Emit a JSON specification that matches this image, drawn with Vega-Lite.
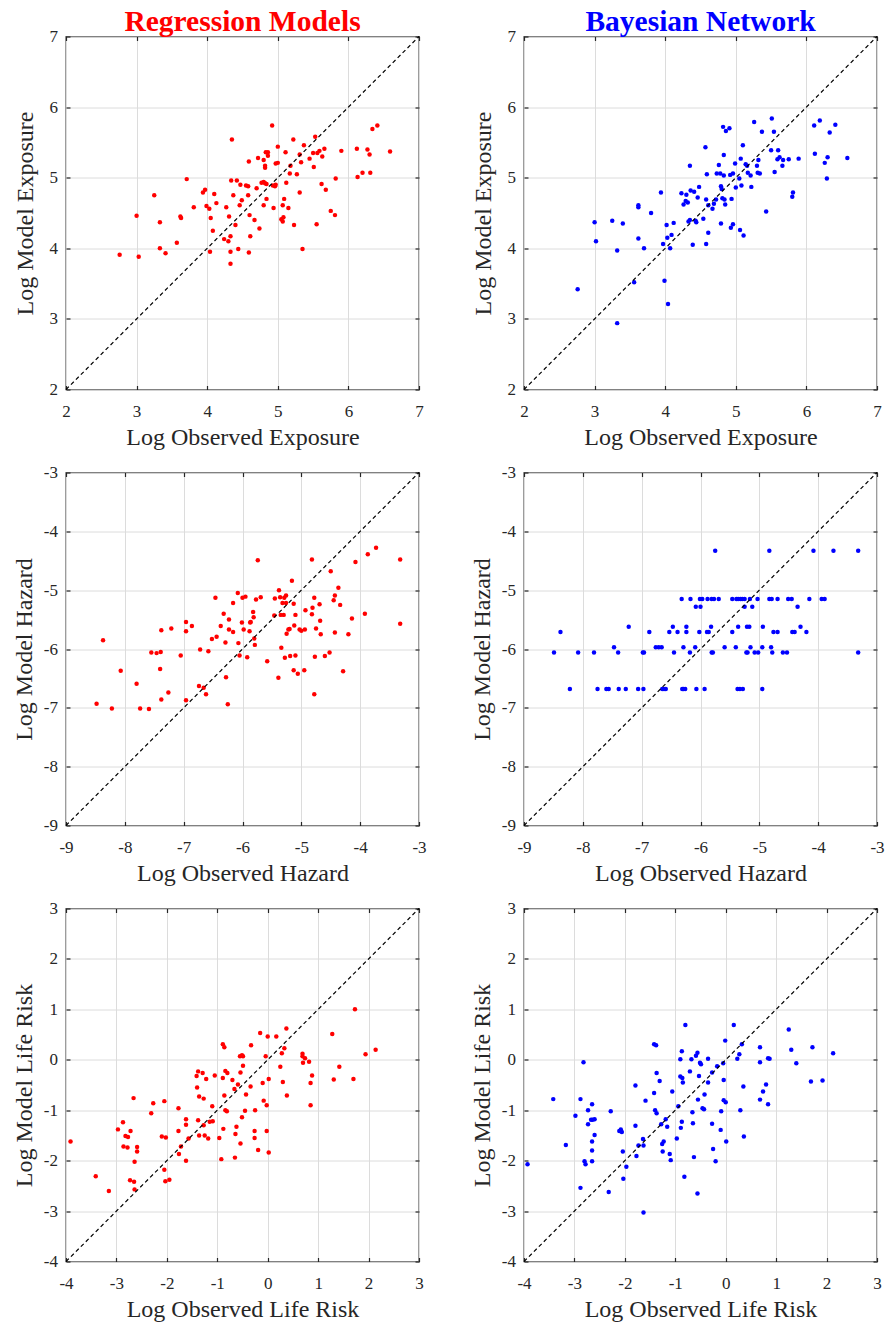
{
"$schema": "https://vega.github.io/schema/vega-lite/v6.json",
"background": "white",
"padding": {"left": 11, "top": 5.5, "right": 2, "bottom": 2},
"config": {
  "view": {"stroke": "#262626", "strokeWidth": 1.3},
  "axis": {"domain": false, "grid": true, "gridColor": "#dcdcdc", "gridWidth": 1, "ticks": true, "tickSize": -4, "tickColor": "#262626", "tickWidth": 1.2, "labelFont": "Liberation Serif", "labelFontSize": 17, "labelColor": "#262626", "labelFlush": false, "labelOverlap": false, "titleFont": "Liberation Serif", "titleFontSize": 24, "titleFontWeight": "normal", "titleColor": "#262626"},
  "axisX": {"labelPadding": 18, "titlePadding": 5.5},
  "axisY": {"labelPadding": 12.5},
  "title": {"font": "Liberation Serif", "fontSize": 29.5, "fontWeight": "bold", "frame": "group", "anchor": "middle", "baseline": "alphabetic", "offset": -9.5}
},
"datasets": {
  "diag_exp": [{"v": 2}, {"v": 7}],
  "diag_haz": [{"v": -9}, {"v": -3}],
  "diag_life": [{"v": -4}, {"v": 3}],
  "rm_exp": [
{"observed":2.76,"model":3.91},{"observed":3.03,"model":3.88},{"observed":3.0,"model":4.46},{"observed":3.25,"model":4.75},{"observed":3.33,"model":4.37},{"observed":3.33,"model":4.0},{"observed":3.41,"model":3.93},{"observed":3.57,"model":4.08},{"observed":3.62,"model":4.45},{"observed":3.63,"model":4.43},{"observed":3.71,"model":4.98},{"observed":3.81,"model":4.58},{"observed":3.94,"model":4.79},{"observed":3.97,"model":4.83},{"observed":3.99,"model":4.6},{"observed":4.03,"model":4.56},{"observed":4.05,"model":4.43},{"observed":4.04,"model":3.95},{"observed":4.08,"model":4.25},{"observed":4.1,"model":4.77},{"observed":4.13,"model":4.64},{"observed":4.24,"model":4.13},{"observed":4.3,"model":4.1},{"observed":4.33,"model":4.17},{"observed":4.33,"model":3.95},{"observed":4.33,"model":3.78},{"observed":4.44,"model":3.99},{"observed":4.59,"model":3.94},{"observed":4.61,"model":4.17},{"observed":4.4,"model":4.33},{"observed":4.27,"model":4.58},{"observed":4.31,"model":4.45},{"observed":4.37,"model":4.75},{"observed":4.34,"model":4.96},{"observed":4.42,"model":4.96},{"observed":4.46,"model":4.61},{"observed":4.49,"model":4.68},{"observed":4.47,"model":4.9},{"observed":4.55,"model":4.89},{"observed":4.58,"model":4.88},{"observed":4.58,"model":4.75},{"observed":4.6,"model":4.47},{"observed":4.67,"model":4.4},{"observed":4.74,"model":4.28},{"observed":4.35,"model":5.54},{"observed":4.59,"model":5.23},{"observed":4.72,"model":5.28},{"observed":4.7,"model":4.85},{"observed":4.77,"model":4.93},{"observed":4.8,"model":4.94},{"observed":4.82,"model":4.92},{"observed":4.84,"model":4.91},{"observed":4.8,"model":4.61},{"observed":4.84,"model":4.7},{"observed":4.8,"model":5.25},{"observed":4.82,"model":5.17},{"observed":4.82,"model":5.14},{"observed":4.83,"model":5.36},{"observed":4.86,"model":5.36},{"observed":4.86,"model":5.31},{"observed":4.92,"model":5.74},{"observed":4.93,"model":4.89},{"observed":4.96,"model":4.88},{"observed":4.97,"model":4.9},{"observed":4.94,"model":4.57},{"observed":4.97,"model":5.2},{"observed":5.0,"model":5.21},{"observed":5.0,"model":5.44},{"observed":5.11,"model":5.36},{"observed":5.07,"model":4.61},{"observed":5.09,"model":4.7},{"observed":5.15,"model":4.57},{"observed":5.05,"model":4.41},{"observed":5.07,"model":4.38},{"observed":5.08,"model":4.44},{"observed":5.12,"model":4.93},{"observed":5.17,"model":5.06},{"observed":5.18,"model":5.17},{"observed":5.22,"model":5.54},{"observed":5.23,"model":4.33},{"observed":5.27,"model":5.05},{"observed":5.31,"model":5.33},{"observed":5.33,"model":5.22},{"observed":5.31,"model":4.79},{"observed":5.35,"model":3.99},{"observed":5.37,"model":5.46},{"observed":5.45,"model":5.27},{"observed":5.5,"model":5.35},{"observed":5.53,"model":5.58},{"observed":5.51,"model":5.15},{"observed":5.56,"model":5.35},{"observed":5.59,"model":5.38},{"observed":5.63,"model":5.3},{"observed":5.66,"model":5.41},{"observed":5.62,"model":4.91},{"observed":5.68,"model":4.83},{"observed":5.55,"model":4.34},{"observed":5.75,"model":4.53},{"observed":5.81,"model":4.47},{"observed":5.82,"model":4.99},{"observed":5.9,"model":5.38},{"observed":6.12,"model":5.41},{"observed":6.13,"model":5.01},{"observed":6.2,"model":5.07},{"observed":6.27,"model":5.4},{"observed":6.3,"model":5.33},{"observed":6.31,"model":5.07},{"observed":6.34,"model":5.69},{"observed":6.41,"model":5.74},{"observed":6.59,"model":5.37}
  ],
  "bn_exp": [
{"observed":2.76,"model":3.42},{"observed":3.0,"model":4.37},{"observed":3.02,"model":4.1},{"observed":3.25,"model":4.39},{"observed":3.4,"model":4.35},{"observed":3.32,"model":3.97},{"observed":3.32,"model":2.94},{"observed":3.56,"model":3.52},{"observed":3.62,"model":4.61},{"observed":3.62,"model":4.58},{"observed":3.62,"model":4.14},{"observed":3.7,"model":4.0},{"observed":3.8,"model":4.5},{"observed":3.94,"model":4.79},{"observed":3.97,"model":4.06},{"observed":3.99,"model":3.54},{"observed":4.02,"model":4.33},{"observed":4.04,"model":3.21},{"observed":4.03,"model":4.15},{"observed":4.07,"model":4.0},{"observed":4.09,"model":4.19},{"observed":4.12,"model":4.36},{"observed":4.23,"model":4.78},{"observed":4.3,"model":4.76},{"observed":4.29,"model":4.67},{"observed":4.26,"model":4.62},{"observed":4.32,"model":4.65},{"observed":4.33,"model":4.38},{"observed":4.35,"model":4.4},{"observed":4.35,"model":5.17},{"observed":4.36,"model":4.82},{"observed":4.41,"model":4.8},{"observed":4.39,"model":4.05},{"observed":4.44,"model":4.37},{"observed":4.43,"model":4.39},{"observed":4.46,"model":4.72},{"observed":4.48,"model":4.87},{"observed":4.54,"model":4.42},{"observed":4.57,"model":5.43},{"observed":4.58,"model":4.69},{"observed":4.59,"model":5.05},{"observed":4.58,"model":4.06},{"observed":4.61,"model":4.22},{"observed":4.61,"model":4.61},{"observed":4.67,"model":4.56},{"observed":4.69,"model":4.63},{"observed":4.72,"model":4.69},{"observed":4.73,"model":5.06},{"observed":4.76,"model":5.18},{"observed":4.78,"model":5.06},{"observed":4.79,"model":4.88},{"observed":4.8,"model":4.84},{"observed":4.79,"model":4.35},{"observed":4.82,"model":5.72},{"observed":4.83,"model":5.32},{"observed":4.83,"model":5.03},{"observed":4.81,"model":4.71},{"observed":4.84,"model":4.69},{"observed":4.85,"model":4.62},{"observed":4.86,"model":5.66},{"observed":4.91,"model":5.7},{"observed":4.92,"model":5.04},{"observed":4.96,"model":5.06},{"observed":4.94,"model":4.7},{"observed":4.93,"model":4.29},{"observed":4.96,"model":4.34},{"observed":4.99,"model":5.2},{"observed":5.0,"model":4.86},{"observed":5.05,"model":4.99},{"observed":5.07,"model":5.27},{"observed":5.08,"model":4.89},{"observed":5.06,"model":4.26},{"observed":5.11,"model":4.18},{"observed":5.1,"model":5.46},{"observed":5.14,"model":5.19},{"observed":5.16,"model":5.17},{"observed":5.17,"model":5.07},{"observed":5.21,"model":5.03},{"observed":5.22,"model":4.87},{"observed":5.26,"model":5.79},{"observed":5.3,"model":5.17},{"observed":5.31,"model":5.07},{"observed":5.32,"model":5.25},{"observed":5.34,"model":5.06},{"observed":5.37,"model":5.65},{"observed":5.43,"model":4.52},{"observed":5.5,"model":5.39},{"observed":5.51,"model":5.84},{"observed":5.54,"model":5.65},{"observed":5.55,"model":5.08},{"observed":5.59,"model":5.26},{"observed":5.6,"model":5.39},{"observed":5.62,"model":5.29},{"observed":5.66,"model":5.17},{"observed":5.67,"model":5.25},{"observed":5.75,"model":5.26},{"observed":5.8,"model":4.73},{"observed":5.81,"model":4.79},{"observed":5.89,"model":5.27},{"observed":6.11,"model":5.74},{"observed":6.19,"model":5.81},{"observed":6.12,"model":5.34},{"observed":6.26,"model":5.21},{"observed":6.3,"model":5.29},{"observed":6.29,"model":4.99},{"observed":6.33,"model":5.64},{"observed":6.41,"model":5.75},{"observed":6.58,"model":5.28}
  ],
  "rm_haz": [
{"observed":-8.48,"model":-6.93},{"observed":-8.37,"model":-5.85},{"observed":-8.22,"model":-7.01},{"observed":-8.07,"model":-6.37},{"observed":-7.8,"model":-6.59},{"observed":-7.74,"model":-7.01},{"observed":-7.59,"model":-7.02},{"observed":-7.55,"model":-6.06},{"observed":-7.46,"model":-6.07},{"observed":-7.39,"model":-6.05},{"observed":-7.4,"model":-6.34},{"observed":-7.38,"model":-5.68},{"observed":-7.38,"model":-6.86},{"observed":-7.26,"model":-6.74},{"observed":-7.21,"model":-5.65},{"observed":-7.05,"model":-6.11},{"observed":-6.96,"model":-5.54},{"observed":-6.96,"model":-5.7},{"observed":-6.96,"model":-6.87},{"observed":-6.86,"model":-5.61},{"observed":-6.74,"model":-6.63},{"observed":-6.72,"model":-6.01},{"observed":-6.66,"model":-6.66},{"observed":-6.62,"model":-6.77},{"observed":-6.58,"model":-6.04},{"observed":-6.52,"model":-5.83},{"observed":-6.46,"model":-5.13},{"observed":-6.44,"model":-5.79},{"observed":-6.37,"model":-5.61},{"observed":-6.32,"model":-5.4},{"observed":-6.29,"model":-5.89},{"observed":-6.28,"model":-6.48},{"observed":-6.25,"model":-6.94},{"observed":-6.23,"model":-5.5},{"observed":-6.23,"model":-5.67},{"observed":-6.16,"model":-5.71},{"observed":-6.16,"model":-5.22},{"observed":-6.08,"model":-5.05},{"observed":-6.07,"model":-5.9},{"observed":-6.05,"model":-6.11},{"observed":-6.01,"model":-5.55},{"observed":-6.0,"model":-5.13},{"observed":-5.98,"model":-5.67},{"observed":-5.95,"model":-5.11},{"observed":-5.92,"model":-6.14},{"observed":-5.88,"model":-5.7},{"observed":-5.87,"model":-5.55},{"observed":-5.86,"model":-5.54},{"observed":-5.82,"model":-5.37},{"observed":-5.81,"model":-5.46},{"observed":-5.8,"model":-5.82},{"observed":-5.79,"model":-5.93},{"observed":-5.77,"model":-5.16},{"observed":-5.74,"model":-4.49},{"observed":-5.69,"model":-5.12},{"observed":-5.58,"model":-6.21},{"observed":-5.46,"model":-5.43},{"observed":-5.45,"model":-5.14},{"observed":-5.38,"model":-5.0},{"observed":-5.39,"model":-6.49},{"observed":-5.36,"model":-5.12},{"observed":-5.35,"model":-5.42},{"observed":-5.34,"model":-5.98},{"observed":-5.32,"model":-5.22},{"observed":-5.3,"model":-5.42},{"observed":-5.29,"model":-5.13},{"observed":-5.28,"model":-6.15},{"observed":-5.26,"model":-5.09},{"observed":-5.26,"model":-5.22},{"observed":-5.25,"model":-5.74},{"observed":-5.22,"model":-5.67},{"observed":-5.2,"model":-5.66},{"observed":-5.19,"model":-6.12},{"observed":-5.16,"model":-4.84},{"observed":-5.13,"model":-5.23},{"observed":-5.13,"model":-6.36},{"observed":-5.12,"model":-5.6},{"observed":-5.1,"model":-5.42},{"observed":-5.1,"model":-6.11},{"observed":-5.06,"model":-6.42},{"observed":-5.03,"model":-5.67},{"observed":-5.0,"model":-5.69},{"observed":-4.95,"model":-6.36},{"observed":-4.94,"model":-5.67},{"observed":-4.93,"model":-5.34},{"observed":-4.82,"model":-4.48},{"observed":-4.82,"model":-5.41},{"observed":-4.81,"model":-5.3},{"observed":-4.78,"model":-5.13},{"observed":-4.78,"model":-6.77},{"observed":-4.77,"model":-6.13},{"observed":-4.75,"model":-5.65},{"observed":-4.69,"model":-5.24},{"observed":-4.68,"model":-5.52},{"observed":-4.67,"model":-5.75},{"observed":-4.6,"model":-6.12},{"observed":-4.52,"model":-6.06},{"observed":-4.5,"model":-4.68},{"observed":-4.45,"model":-5.17},{"observed":-4.43,"model":-5.09},{"observed":-4.43,"model":-5.72},{"observed":-4.37,"model":-4.96},{"observed":-4.34,"model":-5.25},{"observed":-4.29,"model":-6.38},{"observed":-4.2,"model":-5.75},{"observed":-4.14,"model":-5.48},{"observed":-4.08,"model":-4.52},{"observed":-3.92,"model":-5.4},{"observed":-3.87,"model":-4.39},{"observed":-3.73,"model":-4.28},{"observed":-3.32,"model":-4.48},{"observed":-3.32,"model":-5.57}
  ],
  "bn_haz": [
{"observed":-5.75,"model":-4.33},{"observed":-4.83,"model":-4.33},{"observed":-4.08,"model":-4.33},{"observed":-3.74,"model":-4.33},{"observed":-3.32,"model":-4.33},
{"observed":-6.32,"model":-5.15},{"observed":-6.17,"model":-5.15},{"observed":-6.01,"model":-5.15},{"observed":-5.97,"model":-5.15},{"observed":-5.88,"model":-5.15},{"observed":-5.81,"model":-5.15},{"observed":-5.77,"model":-5.15},{"observed":-5.69,"model":-5.15},{"observed":-5.46,"model":-5.15},{"observed":-5.39,"model":-5.15},{"observed":-5.36,"model":-5.15},{"observed":-5.32,"model":-5.15},{"observed":-5.29,"model":-5.15},{"observed":-5.25,"model":-5.15},{"observed":-5.16,"model":-5.15},{"observed":-5.03,"model":-5.15},{"observed":-4.83,"model":-5.15},{"observed":-4.79,"model":-5.15},{"observed":-4.69,"model":-5.15},{"observed":-4.51,"model":-5.15},{"observed":-4.45,"model":-5.15},{"observed":-4.15,"model":-5.15},{"observed":-3.94,"model":-5.15},{"observed":-3.89,"model":-5.15},
{"observed":-6.08,"model":-5.28},{"observed":-6.0,"model":-5.28},{"observed":-5.25,"model":-5.28},{"observed":-5.12,"model":-5.28},{"observed":-4.35,"model":-5.28},
{"observed":-7.22,"model":-5.62},{"observed":-6.47,"model":-5.62},{"observed":-6.24,"model":-5.62},{"observed":-5.82,"model":-5.62},{"observed":-5.36,"model":-5.62},{"observed":-5.21,"model":-5.62},{"observed":-5.17,"model":-5.62},{"observed":-4.94,"model":-5.62},{"observed":-4.3,"model":-5.62},
{"observed":-8.38,"model":-5.71},{"observed":-6.87,"model":-5.71},{"observed":-6.53,"model":-5.71},{"observed":-6.39,"model":-5.71},{"observed":-6.24,"model":-5.71},{"observed":-6.02,"model":-5.71},{"observed":-5.89,"model":-5.71},{"observed":-5.86,"model":-5.71},{"observed":-5.46,"model":-5.71},{"observed":-4.76,"model":-5.71},{"observed":-4.69,"model":-5.71},{"observed":-4.44,"model":-5.71},{"observed":-4.4,"model":-5.71},{"observed":-4.2,"model":-5.71},
{"observed":-7.47,"model":-5.97},{"observed":-6.76,"model":-5.97},{"observed":-6.71,"model":-5.97},{"observed":-6.66,"model":-5.97},{"observed":-6.29,"model":-5.97},{"observed":-6.09,"model":-5.97},{"observed":-5.59,"model":-5.97},{"observed":-5.4,"model":-5.97},{"observed":-5.15,"model":-5.97},{"observed":-4.95,"model":-5.97},{"observed":-4.8,"model":-5.97},
{"observed":-8.49,"model":-6.06},{"observed":-8.08,"model":-6.06},{"observed":-7.81,"model":-6.06},{"observed":-7.4,"model":-6.06},{"observed":-6.98,"model":-6.06},{"observed":-6.96,"model":-6.06},{"observed":-6.45,"model":-6.06},{"observed":-6.18,"model":-6.06},{"observed":-5.81,"model":-6.06},{"observed":-5.79,"model":-6.06},{"observed":-5.22,"model":-6.06},{"observed":-5.2,"model":-6.06},{"observed":-5.08,"model":-6.06},{"observed":-5.02,"model":-6.06},{"observed":-4.78,"model":-6.06},{"observed":-4.6,"model":-6.06},{"observed":-4.53,"model":-6.06},{"observed":-3.32,"model":-6.06},
{"observed":-8.22,"model":-6.68},{"observed":-7.75,"model":-6.68},{"observed":-7.6,"model":-6.68},{"observed":-7.56,"model":-6.68},{"observed":-7.39,"model":-6.68},{"observed":-7.27,"model":-6.68},{"observed":-7.06,"model":-6.68},{"observed":-6.97,"model":-6.68},{"observed":-6.65,"model":-6.68},{"observed":-6.62,"model":-6.68},{"observed":-6.59,"model":-6.68},{"observed":-6.31,"model":-6.68},{"observed":-6.29,"model":-6.68},{"observed":-6.26,"model":-6.68},{"observed":-6.07,"model":-6.68},{"observed":-5.93,"model":-6.68},{"observed":-5.37,"model":-6.68},{"observed":-5.33,"model":-6.68},{"observed":-5.28,"model":-6.68},{"observed":-4.95,"model":-6.68}
  ],
  "rm_life": [
{"observed":-3.91,"model":-1.62},{"observed":-3.41,"model":-2.31},{"observed":-3.15,"model":-2.6},{"observed":-2.97,"model":-1.38},{"observed":-2.87,"model":-1.24},{"observed":-2.82,"model":-1.51},{"observed":-2.77,"model":-1.53},{"observed":-2.86,"model":-1.72},{"observed":-2.78,"model":-1.74},{"observed":-2.72,"model":-1.41},{"observed":-2.66,"model":-0.76},{"observed":-2.73,"model":-2.39},{"observed":-2.65,"model":-2.42},{"observed":-2.64,"model":-2.02},{"observed":-2.64,"model":-2.57},{"observed":-2.59,"model":-1.73},{"observed":-2.59,"model":-1.82},{"observed":-2.31,"model":-1.06},{"observed":-2.27,"model":-0.86},{"observed":-2.1,"model":-1.52},{"observed":-2.02,"model":-1.54},{"observed":-2.05,"model":-0.82},{"observed":-2.05,"model":-2.18},{"observed":-2.03,"model":-2.41},{"observed":-1.95,"model":-2.38},{"observed":-1.77,"model":-0.96},{"observed":-1.77,"model":-1.41},{"observed":-1.76,"model":-1.87},{"observed":-1.72,"model":-1.72},{"observed":-1.62,"model":-1.18},{"observed":-1.62,"model":-1.29},{"observed":-1.62,"model":-2.0},{"observed":-1.57,"model":-1.56},{"observed":-1.41,"model":-0.32},{"observed":-1.38,"model":-0.23},{"observed":-1.29,"model":-0.26},{"observed":-1.4,"model":-0.55},{"observed":-1.36,"model":-0.73},{"observed":-1.27,"model":-0.77},{"observed":-1.38,"model":-1.2},{"observed":-1.36,"model":-1.5},{"observed":-1.27,"model":-1.3},{"observed":-1.25,"model":-1.5},{"observed":-1.18,"model":-1.56},{"observed":-1.22,"model":-0.38},{"observed":-1.15,"model":-1.23},{"observed":-1.09,"model":-1.22},{"observed":-1.1,"model":-0.92},{"observed":-1.05,"model":-0.31},{"observed":-0.96,"model":-1.55},{"observed":-0.92,"model":-1.97},{"observed":-0.89,"model":0.31},{"observed":-0.86,"model":0.25},{"observed":-0.89,"model":-0.36},{"observed":-0.88,"model":-1.37},{"observed":-0.86,"model":-0.71},{"observed":-0.84,"model":-0.22},{"observed":-0.8,"model":-0.26},{"observed":-0.84,"model":-1.0},{"observed":-0.81,"model":-1.02},{"observed":-0.7,"model":-0.4},{"observed":-0.66,"model":-0.58},{"observed":-0.64,"model":-1.47},{"observed":-0.62,"model":-1.33},{"observed":-0.65,"model":-1.94},{"observed":-0.59,"model":-0.49},{"observed":-0.54,"model":-0.25},{"observed":-0.54,"model":-1.66},{"observed":-0.55,"model":0.07},{"observed":-0.51,"model":0.09},{"observed":-0.49,"model":0.07},{"observed":-0.49,"model":-0.12},{"observed":-0.51,"model":-1.14},{"observed":-0.45,"model":-1.01},{"observed":-0.43,"model":-0.69},{"observed":-0.34,"model":-0.53},{"observed":-0.33,"model":0.29},{"observed":-0.26,"model":-1.41},{"observed":-0.26,"model":-1.55},{"observed":-0.25,"model":-1.0},{"observed":-0.19,"model":-1.79},{"observed":-0.15,"model":0.53},{"observed":-0.1,"model":-0.46},{"observed":-0.08,"model":-0.81},{"observed":-0.04,"model":0.07},{"observed":-0.02,"model":-0.9},{"observed":-0.02,"model":-1.41},{"observed":0.0,"model":0.46},{"observed":0.02,"model":-0.38},{"observed":0.02,"model":-1.84},{"observed":0.17,"model":0.46},{"observed":0.25,"model":-0.14},{"observed":0.28,"model":0.13},{"observed":0.3,"model":-0.44},{"observed":0.33,"model":0.23},{"observed":0.37,"model":0.62},{"observed":0.38,"model":-0.71},{"observed":0.69,"model":0.12},{"observed":0.69,"model":0.07},{"observed":0.7,"model":-0.06},{"observed":0.74,"model":0.03},{"observed":0.82,"model":-0.04},{"observed":0.85,"model":-0.46},{"observed":0.85,"model":-0.9},{"observed":0.88,"model":-0.31},{"observed":1.28,"model":0.51},{"observed":1.31,"model":-0.39},{"observed":1.42,"model":-0.14},{"observed":1.7,"model":-0.38},{"observed":1.73,"model":1.0},{"observed":1.94,"model":0.11},{"observed":2.14,"model":0.2}
  ],
  "bn_life": [
{"observed":-3.93,"model":-2.07},{"observed":-3.42,"model":-0.78},{"observed":-3.17,"model":-1.69},{"observed":-2.98,"model":-1.11},{"observed":-2.88,"model":-0.78},{"observed":-2.88,"model":-2.54},{"observed":-2.82,"model":-0.05},{"observed":-2.8,"model":-2.01},{"observed":-2.78,"model":-2.07},{"observed":-2.73,"model":-1.28},{"observed":-2.73,"model":-1.0},{"observed":-2.67,"model":-1.19},{"observed":-2.65,"model":-0.88},{"observed":-2.64,"model":-1.19},{"observed":-2.6,"model":-1.18},{"observed":-2.6,"model":-1.49},{"observed":-2.65,"model":-1.62},{"observed":-2.65,"model":-1.8},{"observed":-2.65,"model":-2.01},{"observed":-2.32,"model":-2.62},{"observed":-2.28,"model":-1.02},{"observed":-2.11,"model":-1.41},{"observed":-2.08,"model":-1.38},{"observed":-2.06,"model":-1.43},{"observed":-2.04,"model":-1.82},{"observed":-2.03,"model":-2.36},{"observed":-1.97,"model":-2.12},{"observed":-1.79,"model":-0.51},{"observed":-1.79,"model":-1.31},{"observed":-1.77,"model":-1.91},{"observed":-1.73,"model":-1.7},{"observed":-1.64,"model":-1.57},{"observed":-1.63,"model":-1.7},{"observed":-1.63,"model":-3.03},{"observed":-1.59,"model":-0.81},{"observed":-1.42,"model":0.31},{"observed":-1.38,"model":0.29},{"observed":-1.42,"model":-0.66},{"observed":-1.4,"model":-1.0},{"observed":-1.37,"model":-1.06},{"observed":-1.37,"model":-0.26},{"observed":-1.31,"model":-0.42},{"observed":-1.28,"model":-1.28},{"observed":-1.26,"model":-1.67},{"observed":-1.23,"model":-1.62},{"observed":-1.25,"model":-1.82},{"observed":-1.19,"model":-1.18},{"observed":-1.16,"model":-1.33},{"observed":-1.11,"model":-1.87},{"observed":-1.09,"model":-1.99},{"observed":-1.06,"model":-0.63},{"observed":-0.97,"model":-1.56},{"observed":-0.94,"model":-0.92},{"observed":-0.9,"model":0.01},{"observed":-0.9,"model":-0.33},{"observed":-0.87,"model":0.17},{"observed":-0.86,"model":-0.36},{"observed":-0.85,"model":-0.45},{"observed":-0.87,"model":-1.23},{"observed":-0.89,"model":-1.35},{"observed":-0.82,"model":-2.32},{"observed":-0.8,"model":0.69},{"observed":-0.71,"model":-0.23},{"observed":-0.68,"model":0.01},{"observed":-0.66,"model":-1.04},{"observed":-0.65,"model":-1.26},{"observed":-0.63,"model":-1.93},{"observed":-0.59,"model":0.08},{"observed":-0.56,"model":0.14},{"observed":-0.55,"model":-0.79},{"observed":-0.56,"model":-2.65},{"observed":-0.53,"model":-0.32},{"observed":-0.51,"model":-0.06},{"observed":-0.49,"model":-0.09},{"observed":-0.46,"model":-0.96},{"observed":-0.43,"model":-0.98},{"observed":-0.42,"model":-0.69},{"observed":-0.35,"model":0.02},{"observed":-0.35,"model":-0.45},{"observed":-0.27,"model":-0.25},{"observed":-0.27,"model":-1.27},{"observed":-0.25,"model":-1.77},{"observed":-0.2,"model":-2.01},{"observed":-0.17,"model":-0.13},{"observed":-0.1,"model":-1.39},{"observed":-0.09,"model":-1.02},{"observed":-0.05,"model":-0.07},{"observed":-0.04,"model":-0.4},{"observed":-0.04,"model":-0.8},{"observed":-0.01,"model":0.38},{"observed":0.0,"model":-0.84},{"observed":0.01,"model":-1.62},{"observed":0.16,"model":0.69},{"observed":0.23,"model":0.02},{"observed":0.27,"model":0.11},{"observed":0.29,"model":-1.0},{"observed":0.32,"model":0.31},{"observed":0.35,"model":-0.53},{"observed":0.36,"model":-1.52},{"observed":0.68,"model":0.25},{"observed":0.68,"model":-0.05},{"observed":0.68,"model":-0.79},{"observed":0.74,"model":-0.63},{"observed":0.8,"model":-0.49},{"observed":0.84,"model":-0.88},{"observed":0.84,"model":0.03},{"observed":0.87,"model":0.02},{"observed":1.25,"model":0.6},{"observed":1.3,"model":0.2},{"observed":1.4,"model":-0.07},{"observed":1.69,"model":-0.43},{"observed":1.72,"model":0.25},{"observed":1.92,"model":-0.41},{"observed":2.13,"model":0.13}
  ]
},
"columns": 2,
"spacing": {"row": 83, "column": 105},
"bounds": "flush",
"concat": [
  {
    "width": 353, "height": 353,
    "title": {"text": "Regression Models", "color": "#ff0000"},
    "resolve": {"axis": {"x": "independent", "y": "independent"}},
    "layer": [
      {"data": {"name": "rm_exp"}, "mark": {"type": "circle", "color": "#ff0000", "size": 20, "opacity": 1},
       "encoding": {"x": {"field": "observed", "type": "quantitative", "title": "Log Observed Exposure", "scale": {"domain": [2, 7], "nice": false, "zero": false}, "axis": {"values": [2,3,4,5,6,7], "labelExpr": "'' + datum.value"}},
                    "y": {"field": "model", "type": "quantitative", "title": "Log Model Exposure", "scale": {"domain": [2, 7], "nice": false, "zero": false}, "axis": {"values": [2,3,4,5,6,7], "labelExpr": "'' + datum.value", "titlePadding": 12}}}},
      {"data": {"name": "diag_exp"}, "mark": {"type": "line", "color": "#000000", "strokeDash": [4, 3], "strokeWidth": 1.2},
       "encoding": {"x": {"field": "v", "type": "quantitative", "title": null, "axis": {"orient": "top", "values": [2,3,4,5,6,7], "labels": false, "grid": false}},
                    "y": {"field": "v", "type": "quantitative", "title": null, "axis": {"orient": "right", "values": [2,3,4,5,6,7], "labels": false, "grid": false}}}}
    ]
  },
  {
    "width": 353, "height": 353,
    "title": {"text": "Bayesian Network", "color": "#0000ff"},
    "resolve": {"axis": {"x": "independent", "y": "independent"}},
    "layer": [
      {"data": {"name": "bn_exp"}, "mark": {"type": "circle", "color": "#0000ff", "size": 20, "opacity": 1},
       "encoding": {"x": {"field": "observed", "type": "quantitative", "title": "Log Observed Exposure", "scale": {"domain": [2, 7], "nice": false, "zero": false}, "axis": {"values": [2,3,4,5,6,7], "labelExpr": "'' + datum.value"}},
                    "y": {"field": "model", "type": "quantitative", "title": "Log Model Exposure", "scale": {"domain": [2, 7], "nice": false, "zero": false}, "axis": {"values": [2,3,4,5,6,7], "labelExpr": "'' + datum.value", "titlePadding": 12}}}},
      {"data": {"name": "diag_exp"}, "mark": {"type": "line", "color": "#000000", "strokeDash": [4, 3], "strokeWidth": 1.2},
       "encoding": {"x": {"field": "v", "type": "quantitative", "title": null, "axis": {"orient": "top", "values": [2,3,4,5,6,7], "labels": false, "grid": false}},
                    "y": {"field": "v", "type": "quantitative", "title": null, "axis": {"orient": "right", "values": [2,3,4,5,6,7], "labels": false, "grid": false}}}}
    ]
  },
  {
    "width": 353, "height": 353,
    "resolve": {"axis": {"x": "independent", "y": "independent"}},
    "layer": [
      {"data": {"name": "rm_haz"}, "mark": {"type": "circle", "color": "#ff0000", "size": 20, "opacity": 1},
       "encoding": {"x": {"field": "observed", "type": "quantitative", "title": "Log Observed Hazard", "scale": {"domain": [-9, -3], "nice": false, "zero": false}, "axis": {"values": [-9,-8,-7,-6,-5,-4,-3], "labelExpr": "'' + datum.value"}},
                    "y": {"field": "model", "type": "quantitative", "title": "Log Model Hazard", "scale": {"domain": [-9, -3], "nice": false, "zero": false}, "axis": {"values": [-9,-8,-7,-6,-5,-4,-3], "labelExpr": "'' + datum.value", "titlePadding": 7}}}},
      {"data": {"name": "diag_haz"}, "mark": {"type": "line", "color": "#000000", "strokeDash": [4, 3], "strokeWidth": 1.2},
       "encoding": {"x": {"field": "v", "type": "quantitative", "title": null, "axis": {"orient": "top", "values": [-9,-8,-7,-6,-5,-4,-3], "labels": false, "grid": false}},
                    "y": {"field": "v", "type": "quantitative", "title": null, "axis": {"orient": "right", "values": [-9,-8,-7,-6,-5,-4,-3], "labels": false, "grid": false}}}}
    ]
  },
  {
    "width": 353, "height": 353,
    "resolve": {"axis": {"x": "independent", "y": "independent"}},
    "layer": [
      {"data": {"name": "bn_haz"}, "mark": {"type": "circle", "color": "#0000ff", "size": 20, "opacity": 1},
       "encoding": {"x": {"field": "observed", "type": "quantitative", "title": "Log Observed Hazard", "scale": {"domain": [-9, -3], "nice": false, "zero": false}, "axis": {"values": [-9,-8,-7,-6,-5,-4,-3], "labelExpr": "'' + datum.value"}},
                    "y": {"field": "model", "type": "quantitative", "title": "Log Model Hazard", "scale": {"domain": [-9, -3], "nice": false, "zero": false}, "axis": {"values": [-9,-8,-7,-6,-5,-4,-3], "labelExpr": "'' + datum.value", "titlePadding": 7}}}},
      {"data": {"name": "diag_haz"}, "mark": {"type": "line", "color": "#000000", "strokeDash": [4, 3], "strokeWidth": 1.2},
       "encoding": {"x": {"field": "v", "type": "quantitative", "title": null, "axis": {"orient": "top", "values": [-9,-8,-7,-6,-5,-4,-3], "labels": false, "grid": false}},
                    "y": {"field": "v", "type": "quantitative", "title": null, "axis": {"orient": "right", "values": [-9,-8,-7,-6,-5,-4,-3], "labels": false, "grid": false}}}}
    ]
  },
  {
    "width": 353, "height": 353,
    "resolve": {"axis": {"x": "independent", "y": "independent"}},
    "layer": [
      {"data": {"name": "rm_life"}, "mark": {"type": "circle", "color": "#ff0000", "size": 20, "opacity": 1},
       "encoding": {"x": {"field": "observed", "type": "quantitative", "title": "Log Observed Life Risk", "scale": {"domain": [-4, 3], "nice": false, "zero": false}, "axis": {"values": [-4,-3,-2,-1,0,1,2,3], "labelExpr": "'' + datum.value"}},
                    "y": {"field": "model", "type": "quantitative", "title": "Log Model Life Risk", "scale": {"domain": [-4, 3], "nice": false, "zero": false}, "axis": {"values": [-4,-3,-2,-1,0,1,2,3], "labelExpr": "'' + datum.value", "titlePadding": 7}}}},
      {"data": {"name": "diag_life"}, "mark": {"type": "line", "color": "#000000", "strokeDash": [4, 3], "strokeWidth": 1.2},
       "encoding": {"x": {"field": "v", "type": "quantitative", "title": null, "axis": {"orient": "top", "values": [-4,-3,-2,-1,0,1,2,3], "labels": false, "grid": false}},
                    "y": {"field": "v", "type": "quantitative", "title": null, "axis": {"orient": "right", "values": [-4,-3,-2,-1,0,1,2,3], "labels": false, "grid": false}}}}
    ]
  },
  {
    "width": 353, "height": 353,
    "resolve": {"axis": {"x": "independent", "y": "independent"}},
    "layer": [
      {"data": {"name": "bn_life"}, "mark": {"type": "circle", "color": "#0000ff", "size": 20, "opacity": 1},
       "encoding": {"x": {"field": "observed", "type": "quantitative", "title": "Log Observed Life Risk", "scale": {"domain": [-4, 3], "nice": false, "zero": false}, "axis": {"values": [-4,-3,-2,-1,0,1,2,3], "labelExpr": "'' + datum.value"}},
                    "y": {"field": "model", "type": "quantitative", "title": "Log Model Life Risk", "scale": {"domain": [-4, 3], "nice": false, "zero": false}, "axis": {"values": [-4,-3,-2,-1,0,1,2,3], "labelExpr": "'' + datum.value", "titlePadding": 7}}}},
      {"data": {"name": "diag_life"}, "mark": {"type": "line", "color": "#000000", "strokeDash": [4, 3], "strokeWidth": 1.2},
       "encoding": {"x": {"field": "v", "type": "quantitative", "title": null, "axis": {"orient": "top", "values": [-4,-3,-2,-1,0,1,2,3], "labels": false, "grid": false}},
                    "y": {"field": "v", "type": "quantitative", "title": null, "axis": {"orient": "right", "values": [-4,-3,-2,-1,0,1,2,3], "labels": false, "grid": false}}}}
    ]
  }
]
}
